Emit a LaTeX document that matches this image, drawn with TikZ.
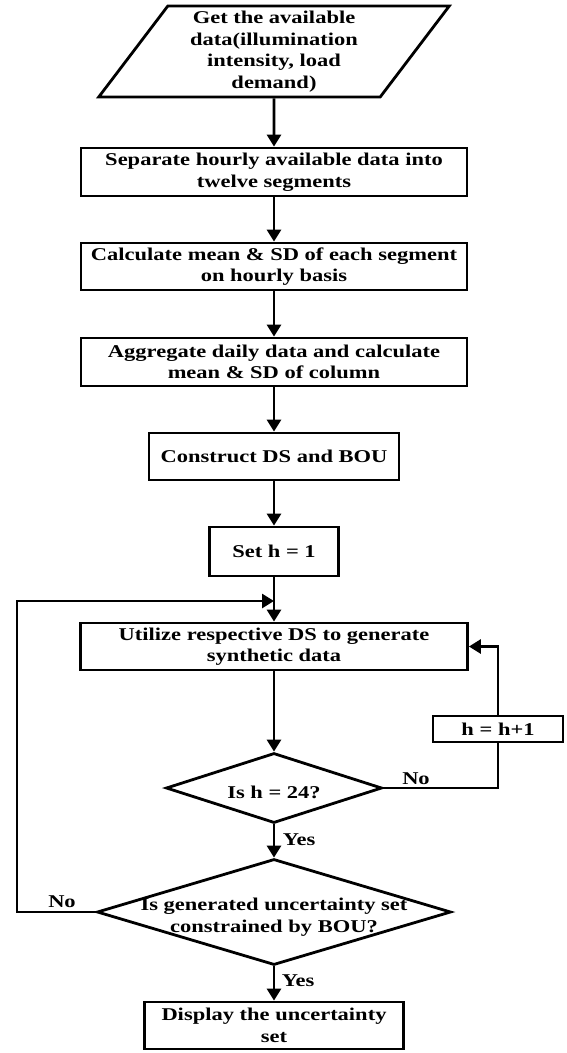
\documentclass[tikz,border=0pt]{standalone}
\usepackage{fontspec}
\setmainfont{Liberation Serif}[FakeStretch=1.25]
\usetikzlibrary{arrows.meta,shapes.geometric}
\begin{document}
\begin{tikzpicture}[x=1pt,y=-1pt,
  font=\bfseries\fontsize{18}{21.5}\selectfont,
  line/.style={draw=black,line width=2.8pt},
  arr/.style={line,-{Triangle[length=12pt,width=14pt]}},
  box/.style={rectangle,line,align=center,inner sep=0pt},
  decision/.style={diamond,line,inner sep=0pt},
  io/.style={trapezium,line,trapezium left angle=56,trapezium right angle=124,
    trapezium stretches=true,inner sep=0pt,align=center}]
\useasboundingbox (0,0) rectangle (566,1053);
\node[io,minimum width=352pt,minimum height=91pt] (in) at (274,51.5)
  {Get the available\\data(illumination\\intensity, load\\demand)};
\node[box,minimum width=386pt,minimum height=48pt] (b2) at (274,172)
  {Separate hourly available data into\\twelve segments};
\node[box,minimum width=386pt,minimum height=47pt] (b3) at (274,266.5)
  {Calculate mean \& SD of each segment\\on hourly basis};
\node[box,minimum width=386pt,minimum height=48pt] (b4) at (274,362)
  {Aggregate daily data and calculate\\mean \& SD of column};
\node[box,minimum width=250pt,minimum height=47pt] (b5) at (274,456.5)
  {Construct DS and BOU};
\node[box,minimum width=129pt,minimum height=49pt] (b6) at (274,551.5)
  {Set h = 1};
\node[box,minimum width=387pt,minimum height=47pt] (b7) at (274,646.5)
  {Utilize respective DS to generate\\synthetic data};
\node[box,minimum width=130pt,minimum height=26pt] (hb) at (498,729)
  {h = h+1};
\node[decision,minimum width=216pt,minimum height=70pt,
  label={[yshift=-4pt]center:{Is h = 24?}}] (d1) at (274,788) {};
\node[decision,minimum width=354pt,minimum height=106pt,
  label={[yshift=-5pt,align=center]center:{Is generated uncertainty set\\constrained by BOU?}}] (d2) at (274,912) {};
\node[box,minimum width=259pt,minimum height=47pt] (b8) at (274,1025.5)
  {Display the uncertainty\\set};
\coordinate (m) at (274,601);
\coordinate (lc) at (17,912);
\node (no1) at (416,779) {No};
\node (yes1) at (299,840) {Yes};
\node (no2) at (62,902) {No};
\node (yes2) at (298,981) {Yes};
\draw[arr] (in) -- (b2);
\draw[arr] (b2) -- (b3);
\draw[arr] (b3) -- (b4);
\draw[arr] (b4) -- (b5);
\draw[arr] (b5) -- (b6);
\draw[arr] (b6) -- (b7);
\draw[arr] (b7) -- (d1);
\draw[arr] (d1) -- (d2);
\draw[arr] (d2) -- (b8);
\draw[line] (d1.east) -| (hb.south);
\draw[arr] (hb.north) |- (b7.east);
\draw[arr] (d2.west) -- (lc) |- (m);
\end{tikzpicture}
\end{document}
